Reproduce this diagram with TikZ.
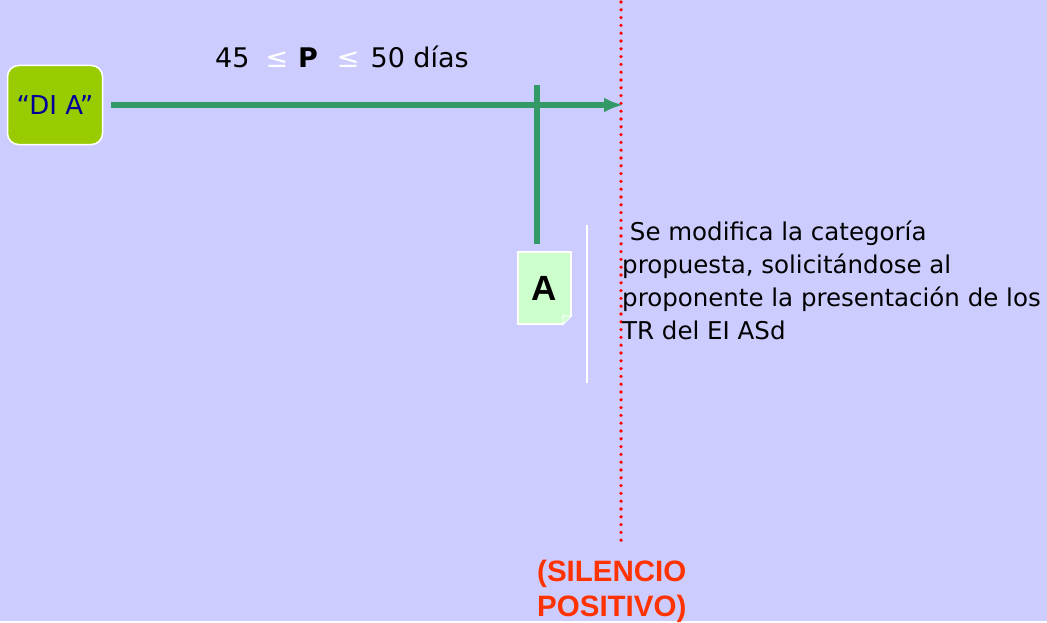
\documentclass[tikz,border=0pt]{standalone}
\usepackage{fontspec}
\setmainfont{DejaVu Sans}
\newfontfamily\arialfont{Liberation Sans}
\usetikzlibrary{arrows.meta}
\definecolor{fondo}{HTML}{CCCCFF}
\definecolor{verdeflecha}{HTML}{339966}
\definecolor{verdedia}{HTML}{99CC00}
\definecolor{verdeA}{HTML}{CCFFCC}
\definecolor{azuldia}{HTML}{000099}
\definecolor{naranja}{HTML}{FF3300}
\tikzset{
  >={Latex[length=19pt,width=15pt]},
}
\tikzstyle{flecha}=[verdeflecha,line width=5.5pt]
\tikzstyle{caja}=[draw=white,line width=1.5pt,inner sep=0pt]
\tikzstyle{texto}=[font=\fontsize{24.5}{33}\selectfont,align=left,inner sep=0pt]

\begin{document}
\begin{tikzpicture}[x=1pt,y=-1pt]
    \fill[fondo] (0,0) rectangle (1047,621);
    \draw[red,line width=3.6pt,line cap=round,dash pattern=on 0pt off 7.8pt] (621,2) -- (621,545);
    \draw[white,line width=1.5pt] (587,225) -- (587,383);
    \node[caja,fill=verdedia,rounded corners=11pt,minimum width=95pt,minimum height=79pt,
      text=azuldia,font=\fontsize{26}{30}\selectfont] (dia) at (55,105) {“DI A”};
    \node[caja,fill=verdeA,minimum width=53pt,minimum height=72pt,
      font=\arialfont\bfseries\fontsize{35}{40}\selectfont] (A) at (544.5,288) {A};
    \fill[fondo] ([xshift=-9pt]A.south east) -- (A.south east) -- ([yshift=9pt]A.south east) -- cycle;
    \draw[white,line width=1pt,fill=verdeA] ([xshift=-9pt]A.south east) -- ([xshift=-9pt,yshift=9pt]A.south east)
      -- ([yshift=9pt]A.south east) -- cycle;
    \coordinate (limite) at (623,105);
    \coordinate (cruce) at (537,85);
    \draw[flecha,->,shorten <=8pt] (dia) -- (limite);
    \draw[flecha,shorten >=7pt] (cruce) -- (cruce |- A.north);
    \node[font=\fontsize{27}{30}\selectfont,anchor=base west,inner sep=0pt] (plazo) at (215,67)
      {45\hspace{16pt}\textcolor{white}{≤}\hspace{10pt}\textbf{P}\hspace{19pt}\textcolor{white}{≤}\hspace{11pt}50 días};
    \node[texto,anchor=north west] (nota) at (622,220.5)
      {\ Se modifica la categoría\\propuesta, solicitándose al\\proponente la presentación de los\\TR del EI ASd};
    \node[anchor=north west,inner sep=0pt,align=left,text=naranja,
      font=\arialfont\bfseries\fontsize{29.5}{35}\selectfont] (silencio) at (537,560) {(SILENCIO\\POSITIVO)};
\end{tikzpicture}
\end{document}
